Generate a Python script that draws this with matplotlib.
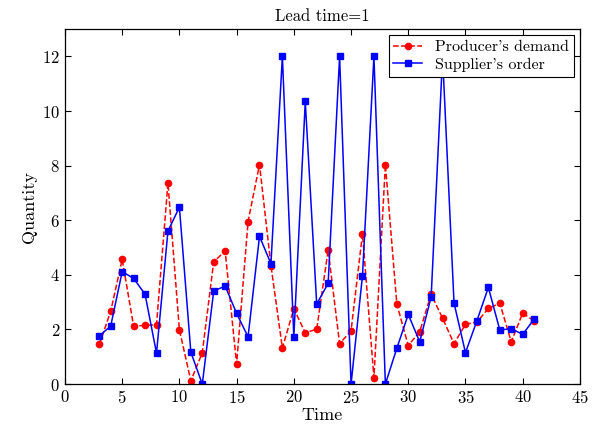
import matplotlib
matplotlib.use('Agg')
from matplotlib import pyplot as plt

plt.rcParams['font.family'] = 'serif'
plt.rcParams['font.serif'] = ['cmr10', 'DejaVu Serif']
plt.rcParams['mathtext.fontset'] = 'cm'
plt.rcParams['axes.formatter.use_mathtext'] = True

# data
time = list(range(3, 42))
demand = [1.45, 2.67, 4.57, 2.12, 2.15, 2.17, 7.37, 1.99, 0.12, 1.15,
          4.48, 4.87, 0.73, 5.95, 8.04, 4.34, 1.32, 2.76, 1.88, 2.01,
          4.91, 1.48, 1.95, 5.50, 0.23, 8.04, 2.93, 1.41, 1.92, 3.29,
          2.41, 1.48, 2.19, 2.27, 2.77, 2.96, 1.55, 2.60, 2.31]
order = [1.76, 2.13, 4.12, 3.87, 3.29, 1.13, 5.60, 6.48, 1.17, 0.0,
         3.41, 3.59, 2.59, 1.73, 5.41, 4.41, 12.0, 1.72, 10.35, 2.93,
         3.69, 12.0, 0.0, 3.97, 12.0, 0.0, 1.31, 2.55, 1.55, 3.19,
         12.0, 2.97, 1.15, 2.32, 3.54, 1.98, 2.03, 1.82, 2.38]

fig = plt.figure(figsize=(5.96, 4.34), dpi=100)
ax = fig.add_axes([0.109, 0.115, 0.864, 0.818])

ax.plot(time, demand, color='red', linestyle='--', linewidth=1.1,
        marker='o', markersize=4.5, label="Producer's demand")
ax.plot(time, order, color='blue', linestyle='-', linewidth=1.1,
        marker='s', markersize=5, label="Supplier's order")

ax.set_xlim(0, 45)
ax.set_ylim(0, 13)
ax.set_xticks(range(0, 46, 5))
ax.set_yticks(range(0, 13, 2))
ax.tick_params(direction='in', top=True, right=True, labelsize=12, length=4)
for s in ax.spines.values():
    s.set_linewidth(0.9)

ax.set_title('Lead time=1', fontsize=12)
ax.set_xlabel('Time', fontsize=13, labelpad=1)
ax.set_ylabel('Quantity', fontsize=13)

leg = ax.legend(loc='upper right', fontsize=11.5, fancybox=False,
                edgecolor='black', framealpha=1, handlelength=1.8,
                borderpad=0.3, labelspacing=0.2, borderaxespad=0.4)
leg.get_frame().set_linewidth(0.8)

plt.savefig('out.png')
